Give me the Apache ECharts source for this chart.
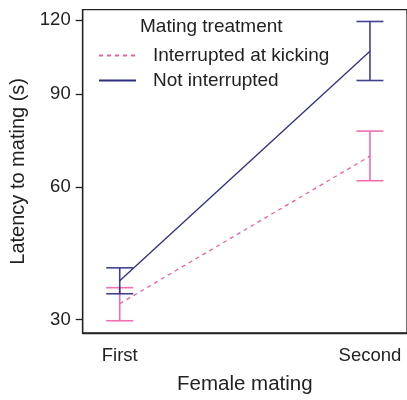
<!DOCTYPE html>
<html><head><meta charset="utf-8">
<script src="https://cdn.jsdelivr.net/npm/echarts@6/dist/echarts.min.js"></script>
<style>html,body{margin:0;padding:0;background:#fff}#c{width:407px;height:400px}</style>
</head><body><div id="c"></div>
<script>
const categories = ['First', 'Second'];
const seriesNames = ['Interrupted at kicking', 'Not interrupted'];
const interruptedMean = [32.9, 69.1];
const interruptedLow = [29.8, 61.8];
const interruptedHigh = [36.0, 77.1];
const notInterruptedMean = [37.4, 106.7];
const notInterruptedLow = [34.8, 95.1];
const notInterruptedHigh = [40.1, 119.4];
const yTicks = [30, 60, 90, 120];

const BLUE = '#2d2e83', PINK = '#ee5fa6';
const FONT = 'Liberation Sans';
// cube-root scale for the y axis
const t = v => Math.cbrt(v);
const tinv = v => v * v * v;

function lineData(means) { return means.map((m, i) => [i + 1, t(m)]); }
function errData(lo, hi) { return lo.map((l, i) => [i + 1, t(l), t(hi[i])]); }

function errSeries(data, color) {
  return {
    type: 'custom', silent: true, z: 3,
    renderItem: (params, api) => {
      const x = api.value(0);
      const p1 = api.coord([x, api.value(1)]);
      const p2 = api.coord([x, api.value(2)]);
      const hw = 13.5;
      const st = { stroke: color, lineWidth: 1.6, opacity: 0.9 };
      return { type: 'group', children: [
        { type: 'line', shape: { x1: p1[0], y1: p1[1], x2: p2[0], y2: p2[1] }, style: st },
        { type: 'line', shape: { x1: p1[0] - hw, y1: p1[1], x2: p1[0] + hw, y2: p1[1] }, style: st },
        { type: 'line', shape: { x1: p2[0] - hw, y1: p2[1], x2: p2[0] + hw, y2: p2[1] }, style: st }
      ]};
    },
    data: data
  };
}

const chart = echarts.init(document.getElementById('c'), null, { renderer: 'canvas' });
chart.setOption({
  animation: false,
  textStyle: { fontFamily: FONT },
  title: {
    text: 'Mating treatment', left: 135, top: 12,
    textStyle: { fontFamily: FONT, fontSize: 19, fontWeight: 'normal', color: '#222' }
  },
  legend: {
    orient: 'vertical', left: 98, top: 46, padding: 0,
    itemWidth: 37, itemHeight: 14, itemGap: 6,
    itemStyle: { opacity: 0 },
    data: seriesNames,
    textStyle: { fontFamily: FONT, fontSize: 19, color: '#222', padding: [0, 0, 0, 12] }
  },
  grid: { left: 82.7, top: 9.7, right: -2, bottom: 64.7, show: true, borderColor: '#222', borderWidth: 1.3 },
  xAxis: {
    type: 'value', min: 0.852, max: 2.148,
    name: 'Female mating', nameLocation: 'middle', nameGap: 41,
    nameTextStyle: { fontFamily: FONT, fontSize: 20.5, color: '#222' },
    axisLine: { show: true, lineStyle: { color: '#222', width: 1.3 } },
    axisTick: { show: false },
    splitLine: { show: false },
    axisLabel: {
      customValues: [1, 2], margin: 13,
      formatter: v => categories[Math.round(v) - 1] || '',
      fontFamily: FONT, fontSize: 18.5, color: '#222'
    }
  },
  yAxis: {
    type: 'value', min: t(27.7), max: t(124.7),
    name: 'Latency to mating (s)', nameLocation: 'middle', nameGap: 48,
    nameTextStyle: { fontFamily: FONT, fontSize: 20, color: '#222' },
    axisLine: { show: true, lineStyle: { color: '#222', width: 1.3 } },
    axisTick: { show: true, length: 7, customValues: yTicks.map(t), lineStyle: { color: '#222', width: 1.3 } },
    splitLine: { show: false },
    axisLabel: {
      customValues: yTicks.map(t), margin: 12,
      formatter: v => String(Math.round(tinv(v))),
      fontFamily: FONT, fontSize: 18.5, color: '#222'
    }
  },
  series: [
    { name: seriesNames[0], type: 'line', data: lineData(interruptedMean), symbol: 'none', z: 4,
      color: PINK, lineStyle: { color: PINK, width: 1.3, type: [4, 4] } },
    { name: seriesNames[1], type: 'line', data: lineData(notInterruptedMean), symbol: 'none', z: 4,
      color: BLUE, lineStyle: { color: BLUE, width: 1.3 } },
    errSeries(errData(interruptedLow, interruptedHigh), PINK),
    errSeries(errData(notInterruptedLow, notInterruptedHigh), BLUE)
  ]
});
</script></body></html>
